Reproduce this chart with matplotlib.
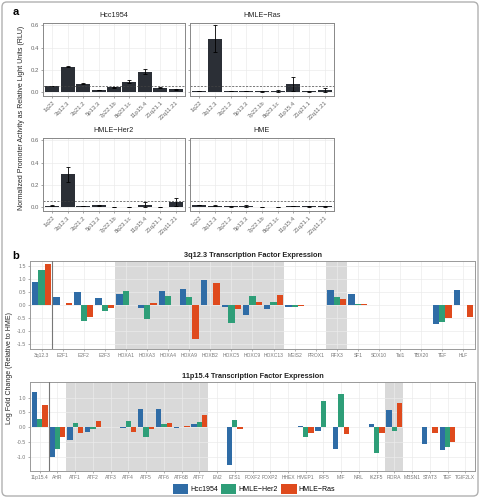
import numpy as np
import matplotlib
matplotlib.use("Agg")
import matplotlib.pyplot as plt
from matplotlib.patches import Patch, FancyBboxPatch

plt.rcParams['font.family'] = ['Liberation Sans', 'DejaVu Sans']

# ---- panel a data ----
loci = ["1q22", "3q12.3", "3q21.2", "5p13.3", "7p22.1b", "8q23.1c", "11p15.4", "21q21.1", "22q11.21"]
hcc1954 = [0.055, 0.230, 0.075, 0.020, 0.045, 0.095, 0.185, 0.042, 0.028]
hcc1954_err = [0.003, 0.008, 0.005, 0.003, 0.003, 0.015, 0.025, 0.003, 0.004]
hmle_ras = [0.010, 0.480, 0.012, 0.010, 0.008, 0.015, 0.075, 0.010, 0.020]
hmle_ras_err = [0.002, 0.120, 0.004, 0.002, 0.002, 0.010, 0.060, 0.003, 0.015]
hmle_her2 = [0.015, 0.295, 0.012, 0.020, 0.005, 0.005, 0.025, 0.005, 0.050]
hmle_her2_err = [0.003, 0.070, 0.003, 0.004, 0.002, 0.002, 0.020, 0.002, 0.035]
hme = [0.020, 0.015, 0.008, 0.015, 0.003, 0.003, 0.012, 0.008, 0.010]
hme_err = [0.003, 0.003, 0.002, 0.008, 0.001, 0.001, 0.003, 0.002, 0.004]
threshold = 0.06

# ---- panel b data ----
tf_3q = ["3q12.3", "E2F1", "E2F2", "E2F3", "HOXA1", "HOXA3", "HOXA4", "HOXA9", "HOXB2", "HOXC5",
         "HOXC9", "HOXC13", "MEIS2", "PROX1", "RFX3", "SF1", "SOX10", "Tal1", "TBX20", "TEF", "HLF"]
fc3_hcc = [0.88, 0.29, 0.52, 0.27, 0.41, -0.13, 0.55, 0.61, 0.97, -0.09, -0.40, -0.15, -0.08,
           0.01, 0.59, 0.41, 0.01, 0.01, 0.01, -0.73, 0.59]
fc3_her2 = [1.35, 0.01, -0.63, -0.24, 0.55, -0.55, 0.36, 0.32, 0.01, -0.68, 0.36, 0.10, -0.09,
            0.01, 0.29, 0.02, 0.01, 0.01, 0.01, -0.64, 0.01]
fc3_ras = [1.57, 0.08, -0.47, -0.13, 0.01, 0.09, 0.01, -1.30, 0.84, -0.15, 0.10, 0.37, -0.05,
           0.01, 0.23, 0.02, 0.01, 0.01, 0.01, -0.49, -0.47]
shade_3q = [("HOXA1", "HOXC13"), ("RFX3", "RFX3")]

tf_11p = ["11p15.4", "AHR", "ATF1", "ATF2", "ATF3", "ATF4", "ATF5", "ATF6", "ATF6B", "ATF7", "EN2",
          "ETS1", "FOXF2", "FOXP2", "HHEX", "HIVEP1", "IRF5", "MIF", "NRL", "IKZF5", "RORA", "MBSN1",
          "STAT3", "TEF", "TGIF2LX"]
fc11_hcc = [1.18, -0.99, -0.42, -0.15, 0.01, -0.03, 0.63, 0.60, -0.01, 0.10, 0.01, -1.28, 0.01,
            0.01, 0.01, 0.04, -0.12, -0.72, 0.01, 0.10, 0.58, 0.01, -0.55, -0.77, 0.01]
fc11_her2 = [0.29, -0.72, 0.15, -0.06, 0.01, 0.20, -0.32, 0.11, 0.02, 0.19, 0.01, 0.26, 0.01,
             0.01, 0.01, -0.34, 0.90, 1.13, 0.01, -0.86, -0.14, 0.01, 0.01, -0.66, 0.01]
fc11_ras = [0.76, -0.34, -0.18, 0.21, 0.01, -0.16, -0.06, 0.13, 0.05, 0.43, 0.01, -0.07, 0.01,
            0.01, 0.01, -0.20, 0.01, -0.24, 0.01, -0.19, 0.81, 0.01, -0.20, -0.51, 0.01]
shade_11p = [("ATF1", "ATF7"), ("RORA", "RORA")]

series_names = ["Hcc1954", "HMLE\u2212Her2", "HMLE\u2212Ras"]
series_colors = ["#2f6ca6", "#2e9e78", "#df4a1d"]

fig = plt.figure(figsize=(4.8, 4.98), dpi=100)
W, H = 480.0, 498.0


def px_axes(x0, y0, x1, y1):
    return fig.add_axes([x0 / W, 1 - y1 / H, (x1 - x0) / W, (y1 - y0) / H])


# ---- panel a ----
panels = [
    ("Hcc1954", hcc1954, hcc1954_err, (43, 23, 185, 96), True),
    ("HMLE\u2212Ras", hmle_ras, hmle_ras_err, (190, 23, 334, 96), False),
    ("HMLE\u2212Her2", hmle_her2, hmle_her2_err, (43, 138, 185, 211), True),
    ("HME", hme, hme_err, (190, 138, 334, 211), False),
]
xa = np.arange(len(loci))
for name, vals, errs, box, show_y in panels:
    ax = px_axes(*box)
    ax.set_axisbelow(True)
    ax.grid(True, color="#ebebeb", lw=0.5)
    ax.bar(xa, vals, width=0.9, color="#2b2f36", yerr=errs,
           error_kw=dict(lw=0.6, capsize=1.2, capthick=0.6, ecolor="black"))
    ax.axhline(threshold, color="#444444", lw=0.5, ls=(0, (3, 2)))
    ax.set_xlim(-0.6, len(loci) - 0.4)
    ax.set_ylim(-0.033, 0.62)
    ax.set_yticks([0.0, 0.2, 0.4, 0.6])
    ax.set_xticks(xa)
    ax.set_xticklabels(loci, rotation=45, ha="right", rotation_mode="anchor", fontsize=4.3, color="#444444")
    if show_y:
        ax.set_yticklabels(["0.0", "0.2", "0.4", "0.6"], fontsize=4.3, color="#444444")
    else:
        ax.set_yticklabels([])
    ax.tick_params(length=1.5, width=0.4, pad=1.5, colors="#666666")
    for s in ax.spines.values():
        s.set_color("#888888")
        s.set_linewidth(0.7)
    ax.set_title(name, fontsize=5.2, pad=4, color="#222222")

fig.text(22 / W, 1 - 118 / H, "Normalized Promoter Activity as Relative Light Units (RLU)",
         rotation=90, ha="center", va="center", fontsize=5, color="#222222")
fig.text(16 / W, 1 - 12 / H, "a", fontsize=8, fontweight="bold", ha="center", va="center")
fig.text(16 / W, 1 - 256 / H, "b", fontsize=8, fontweight="bold", ha="center", va="center")


# ---- panel b ----
def fold_panel(box, cats, h, g, r, shades, ylim, yticks, title):
    ax = px_axes(*box)
    n = len(cats)
    x = np.arange(n)
    ax.set_axisbelow(True)
    ax.grid(True, color="#ebebeb", lw=0.5)
    for a, b in shades:
        ax.axvspan(cats.index(a) - 0.5, cats.index(b) + 0.5, color="#d9d9d9", lw=0, zorder=0.5)
    w = 0.3
    for k, (vals, c) in enumerate(zip([h, g, r], series_colors)):
        ax.bar(x + (k - 1) * w, vals, width=w, color=c, zorder=2)
    ax.axvline(0.5, color="#777777", lw=0.8, zorder=3)
    ax.set_xlim(-0.55, n - 0.45)
    ax.set_ylim(*ylim)
    ax.set_yticks(yticks)
    ax.set_yticklabels([f"{t:.1f}" for t in yticks], fontsize=3.8, color="#555555")
    ax.set_xticks(x)
    ax.set_xticklabels(cats, fontsize=3.6, color="#444444")
    ax.tick_params(length=1.2, width=0.4, pad=1.5, colors="#777777")
    for s in ax.spines.values():
        s.set_color("#999999")
        s.set_linewidth(0.7)
    ax.set_title(title, fontsize=5.3, fontweight="bold", pad=3, color="#222222")
    return ax


fold_panel((30, 261, 475, 349), tf_3q, fc3_hcc, fc3_her2, fc3_ras, shade_3q,
           (-1.7, 1.7), [-1.5, -1.0, -0.5, 0.0, 0.5, 1.0, 1.5],
           "3q12.3 Transcription Factor Expression")
fold_panel((30, 382, 475, 471), tf_11p, fc11_hcc, fc11_her2, fc11_ras, shade_11p,
           (-1.48, 1.53), [-1.0, -0.5, 0.0, 0.5, 1.0],
           "11p15.4 Transcription Factor Expression")

fig.text(10 / W, 1 - 368 / H, "Log Fold Change (Relative to HME)", rotation=90,
         ha="center", va="center", fontsize=5, color="#222222")

handles = [Patch(facecolor=c, edgecolor="none", label=n) for n, c in zip(series_names, series_colors)]
fig.legend(handles=handles, loc="center", bbox_to_anchor=(254 / W, 1 - 489 / H), ncol=3,
           frameon=False, fontsize=5, handlelength=2.2, handleheight=2.0, handletextpad=0.3,
           columnspacing=0.5, borderpad=0.1)

fig.patches.append(FancyBboxPatch((2 / W, 2 / H), 1 - 4 / W, 1 - 4 / H, transform=fig.transFigure,
                                  boxstyle="round,pad=0,rounding_size=0.01",
                                  fill=False, edgecolor="#b0b0b0", lw=1))

fig.savefig("out.png", dpi=100)
